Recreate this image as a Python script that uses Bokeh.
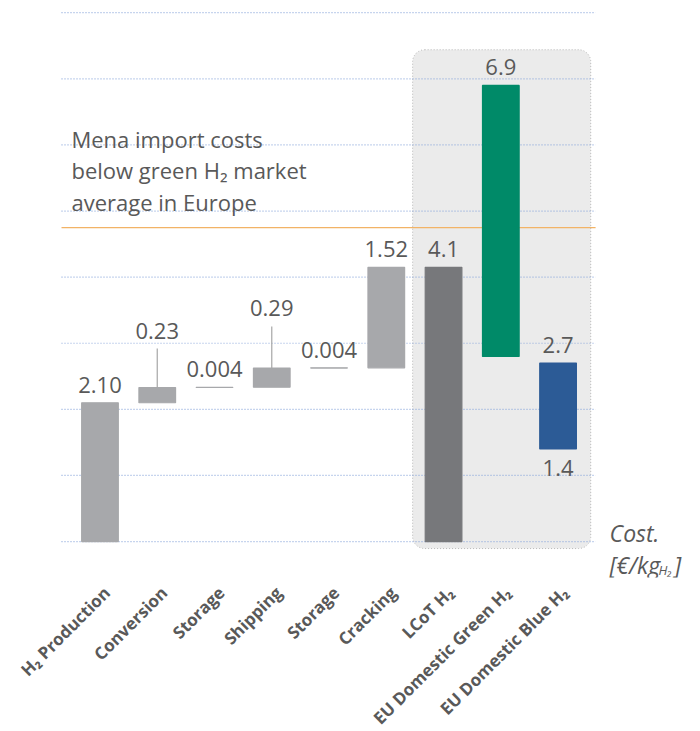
import math
import numpy as np
from bokeh.plotting import figure
from bokeh.models import Range1d, FixedTicker
from bokeh.core.properties import value
from bokeh.embed import file_html
from bokeh.resources import INLINE

# ---------------- data ----------------
categories = ["H₂ Production", "Conversion", "Storage", "Shipping", "Storage",
              "Cracking", "LCoT H₂", "EU Domestic Green H₂", "EU Domestic Blue H₂"]
step_values = [2.10, 0.23, 0.004, 0.29, 0.004, 1.52]
step_labels = ["2.10", "0.23", "0.004", "0.29", "0.004", "1.52"]
lcot_label = "4.1"
green_low, green_high = 2.8, 6.9
green_label = "6.9"
blue_low, blue_high = 1.4, 2.7
blue_labels = ["2.7", "1.4"]
market_avg = 4.75
gridline_values = [0, 1, 2, 3, 4, 5, 6, 7, 8]
annotation_lines = ["Mena import costs", "below green H₂ market", "average in Europe"]

# ---------------- style ----------------
GREY = "#A7A8AB"
DARK = "#77787B"
GREEN = "#008A68"
BLUE = "#2C5B96"
TXT = "#595959"
FONT = "Open Sans"
leader = [0, 0.59, 0, 0.63, 0, 0]

xs = list(range(len(categories)))
cum = np.cumsum(step_values)
lcot_total = float(cum[-1])
bottoms = [0.0] + [float(c) for c in cum[:-1]] + [0.0, green_low, blue_low]
tops = [float(c) for c in cum] + [lcot_total, green_high, blue_high]
colors = [GREY] * 6 + [DARK, GREEN, BLUE]

p = figure(frame_width=632, frame_height=570,
           x_range=Range1d(-0.707, 10.33), y_range=Range1d(-0.544, 8.079),
           output_backend="svg", toolbar_location=None, y_axis_location=None,
           min_border_left=59, min_border_right=0, min_border_top=7, min_border_bottom=0)
p.outline_line_color = None
p.grid.visible = False
p.background_fill_color = "white"
p.border_fill_color = "white"

# highlight box
box_left, box_right = 6 - 0.54, 8 + 0.57
box_top, box_bottom = green_high + 0.54, -0.106
p.quad(left=[box_left], right=[box_right], top=[box_top], bottom=[box_bottom],
       fill_color="#EBEBEB", line_color="#B8B8B8", line_dash="1 2", line_width=1,
       border_radius=12)

# gridlines
gx0, gx1 = -0.672, 8.655
n = len(gridline_values)
p.segment(x0=[gx0] * n, x1=[gx1] * n, y0=gridline_values, y1=gridline_values,
          line_color="#8FAADC", line_dash="1 2", line_width=1.2)
# market average line
p.segment(x0=[gx0], x1=[gx1], y0=[market_avg], y1=[market_avg],
          line_color="#F2B366", line_width=1.3)

# bars
p.vbar(x=xs, bottom=bottoms, top=tops, width=0.64,
       fill_color=colors, line_color=colors, line_width=1.2)

# leader lines
lx = [xs[i] for i in range(6) if leader[i] > 0]
ly0 = [tops[i] for i in range(6) if leader[i] > 0]
ly1 = [tops[i] + leader[i] for i in range(6) if leader[i] > 0]
p.segment(x0=lx, x1=lx, y0=ly0, y1=ly1, line_color="#A6A6A6", line_width=1.2)

# value labels
label_x = xs[:6] + [6, 7, 8, 8]
label_y = [tops[i] + leader[i] for i in range(6)] + [lcot_total, green_high, blue_high, blue_low]
label_t = step_labels + [lcot_label, green_label] + blue_labels
label_off = [-18] * 9 + [19]
p.text(x=label_x, y=label_y, text=label_t, y_offset=label_off,
       text_align="center", text_baseline="middle",
       text_font=value(FONT), text_font_size="22px", text_color=TXT)

# annotation
p.text(x=[-0.498] * 3, y=[6.097] * 3, y_offset=[0, 31.5, 63], text=annotation_lines,
       text_align="left", text_baseline="alphabetic",
       text_font=value(FONT), text_font_size="22px", text_color=TXT)

# unit label
p.text(x=[8.9], y=[0.136], text=["Cost."], text_align="left", text_baseline="alphabetic",
       text_font=value(FONT), text_font_size="23px", text_font_style="italic", text_color=TXT)
p.text(x=[8.9, 8.9], y=[-0.348, -0.348], x_offset=[0, 65], text=["[€/kg", "]"],
       text_align="left", text_baseline="alphabetic",
       text_font=value(FONT), text_font_size="23px", text_font_style="italic", text_color=TXT)
p.text(x=[8.9], y=[-0.348], x_offset=[49], y_offset=[5], text=["H₂"],
       text_align="left", text_baseline="alphabetic",
       text_font=value(FONT), text_font_size="13px", text_font_style="italic", text_color=TXT)

# category axis
ticks = [i + 0.12 for i in xs]
ax = p.xaxis[0]
ax.ticker = FixedTicker(ticks=ticks)
ax.major_label_overrides = {t: c for t, c in zip(ticks, categories)}
ax.major_label_orientation = math.pi / 4
ax.axis_line_color = None
ax.major_tick_line_color = None
ax.minor_tick_line_color = None
ax.major_tick_in = 0
ax.major_tick_out = 0
ax.major_label_standoff = 12
ax.major_label_text_font = FONT
ax.major_label_text_font_style = "bold"
ax.major_label_text_font_size = "17px"
ax.major_label_text_color = TXT

open("out.html", "w").write(file_html(p, INLINE))
